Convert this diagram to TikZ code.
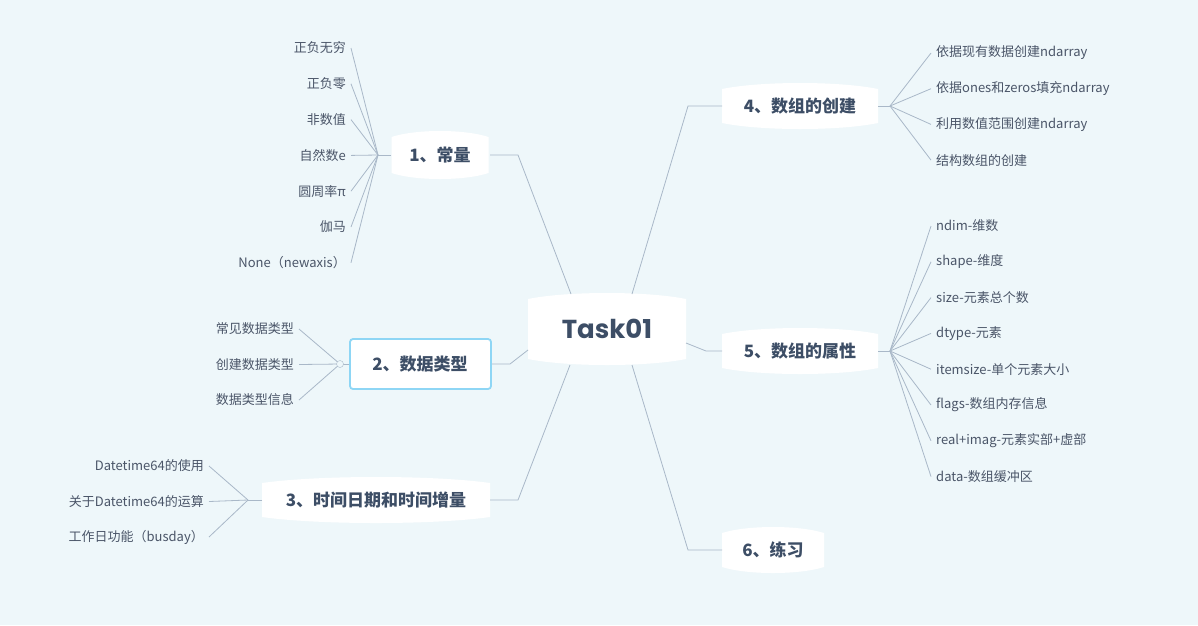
\documentclass[tikz,border=0pt]{standalone}
\usepackage{fontspec}
\usetikzlibrary{calc}
\setmainfont{Noto Sans CJK SC}
\newfontfamily\latinb{Poppins}
\definecolor{bg}{HTML}{EEF7FA}
\definecolor{ln}{HTML}{A9B8C8}
\definecolor{lf}{HTML}{4A5568}
\definecolor{tp}{HTML}{3D4E66}
\definecolor{bl}{HTML}{8ED6F5}
\newcommand\bub[5]{% name,x,y,w,h
 \fill[white] ({#2-#4/2},{#3-#5/2+5}) .. controls ({#2-#4/4},{#3-#5/2-3}) and ({#2+#4/4},{#3-#5/2-3}) .. ({#2+#4/2},{#3-#5/2+5}) -- ({#2+#4/2},{#3+#5/2-5}) .. controls ({#2+#4/4},{#3+#5/2+3}) and ({#2-#4/4},{#3+#5/2+3}) .. ({#2-#4/2},{#3+#5/2-5}) -- cycle;}
\tikzset{
 leaf/.style={font=\fontsize{13}{15}\selectfont, text=lf, inner sep=1pt},
 topic/.style={font=\bfseries\fontsize{17}{20}\selectfont, text=tp},
 conn/.style={draw=ln, line width=0.8pt},
}
\begin{document}
\begin{tikzpicture}[x=1pt,y=-1pt]
\fill[bg] (0,0) rectangle (1198,625);
\useasboundingbox (0,0) rectangle (1198,625);
% center
\bub{c}{607}{329}{158}{70}
\node[font=\latinb\bfseries\fontsize{26}{30}\selectfont, text=tp] (c) at (607,329) {Task01};
% topics
\bub{t1}{440}{155}{97}{46}
\node[topic] (t1) at (440,155) {1、常量};
\fill[white] (351,340) rectangle (490,388);
\draw[bl, line width=1.8pt, rounded corners=3pt] (350,339) rectangle (491,389);
\node[topic] (t2) at (420,364) {2、数据类型};
\bub{t3}{376}{500}{228}{44}
\node[topic] (t3) at (376,500) {3、时间日期和时间增量};
\bub{t4}{800}{106}{156}{44}
\node[topic] (t4) at (800,106) {4、数组的创建};
\bub{t5}{800}{351}{156}{44}
\node[topic] (t5) at (800,351) {5、数组的属性};
\bub{t6}{773}{550}{102}{44}
\node[topic] (t6) at (773,550) {6、练习};
% center connectors
\coordinate (c1) at (571,294); \coordinate (c2) at (528,350);
\coordinate (c3) at (570,365); \coordinate (c4) at (632,294);
\coordinate (c5) at (686,343); \coordinate (c6) at (632,365);
\draw[conn] (c1) -- (518,155) -- (490,155);
\draw[conn] (c2) -- (510,364) -- (492,364);
\draw[conn] (c3) -- (518,500) -- (490,500);
\draw[conn] (c4) -- (688,106) -- (722,106);
\draw[conn] (c5) -- (706,351) -- (722,351);
\draw[conn] (c6) -- (688,550) -- (722,550);
% topic 1 leaves
\coordinate (h1) at (378,155);
\draw[conn] (391,155) -- (h1);
\foreach \t [count=\i] in {正负无穷,正负零,非数值,自然数e,圆周率π,伽马,None（newaxis）}{
  \node[leaf, anchor=east] (a\i) at (347,{48+35.8*(\i-1)}) {\t};
  \draw[conn] (h1) -- ($(a\i.east)+(4,0)$);
}
% topic 2 leaves
\coordinate (h2) at (340,364);
\draw[conn] (349,364) -- (h2);
\foreach \t [count=\i] in {常见数据类型,创建数据类型,数据类型信息}{
  \node[leaf, anchor=east] (b\i) at (295,{329+35.5*(\i-1)}) {\t};
  \draw[conn] (h2) -- ($(b\i.east)+(4,0)$);
}
\draw[ln, fill=bg] (h2) circle (3.5);
% topic 3 leaves
\coordinate (h3) at (248,500);
\draw[conn] (262,500) -- (h3);
\foreach \t [count=\i] in {Datetime64的使用,关于Datetime64的运算,工作日功能（busday）}{
  \node[leaf, anchor=east] (d\i) at (205,{466+35.5*(\i-1)}) {\t};
  \draw[conn] (h3) -- ($(d\i.east)+(4,0)$);
}
% topic 4 leaves
\coordinate (h4) at (890,106);
\draw[conn] (878,106) -- (h4);
\foreach \t [count=\i] in {依据现有数据创建ndarray,依据ones和zeros填充ndarray,利用数值范围创建ndarray,结构数组的创建}{
  \node[leaf, anchor=west] (e\i) at (935,{53+35.7*(\i-1)}) {\t};
  \draw[conn] (h4) -- ($(e\i.west)+(-4,0)$);
}
% topic 5 leaves
\coordinate (h5) at (890,351);
\draw[conn] (878,351) -- (h5);
\foreach \t [count=\i] in {ndim-维数,shape-维度,size-元素总个数,dtype-元素,itemsize-单个元素大小,flags-数组内存信息,real+imag-元素实部+虚部,data-数组缓冲区}{
  \node[leaf, anchor=west] (f\i) at (935,{226+35.8*(\i-1)}) {\t};
  \draw[conn] (h5) -- ($(f\i.west)+(-4,0)$);
}
\end{tikzpicture}
\end{document}
